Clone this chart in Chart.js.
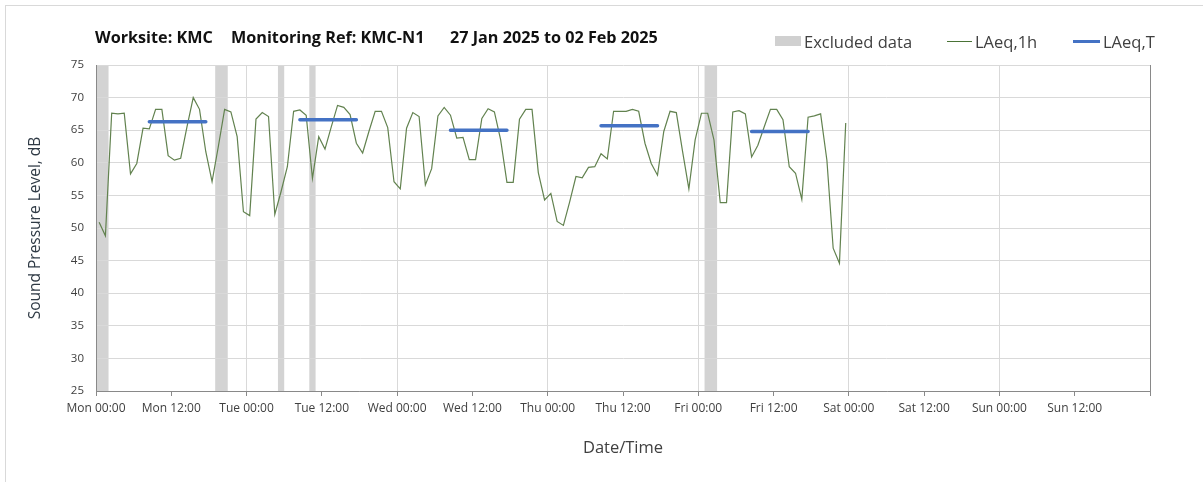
<!DOCTYPE html>
<html lang="en">
<head>
<meta charset="UTF-8">
<title>KMC-N1 Noise Monitoring</title>
<script src="https://cdn.jsdelivr.net/npm/chart.js"></script>
<style>
    body { margin: 0; background: #fff; overflow: hidden; font-family: 'Open Sans', sans-serif; }
    .wrap { position: relative; width: 1203px; height: 482px; }
    .frame { position: absolute; left: 5px; top: 5px; width: 1400px; height: 700px; border: 1px solid #d9d9d9; }
    canvas { position: absolute; left: 0; top: 0; }
    .title span { position: absolute; top: 26px; font-size: 16.2px; font-weight: bold; color: #111; white-space: nowrap; }
    .legend { position: absolute; top: 30px; font-size: 16.5px; color: #404040; white-space: nowrap; }
    .legend .mark { position: absolute; }
    .legend .txt { position: absolute; top: 0; }
</style>
</head>
<body>
<div class="wrap">
    <div class="frame"></div>
    <canvas id="myChart" width="1203" height="482"></canvas>
    <div class="title">
        <span style="left:95px">Worksite: KMC</span>
        <span style="left:231px">Monitoring Ref: KMC-N1</span>
        <span style="left:450px">27 Jan 2025 to 02 Feb 2025</span>
    </div>
    <div class="legend">
        <div class="mark" style="left:775px; top:6px; width:26px; height:10px; background:#d0d0d0;"></div>
        <div class="txt" style="left:804px">Excluded data</div>
        <div class="mark" style="left:947px; top:11px; width:25px; height:1px; background:#4a7336;"></div>
        <div class="txt" style="left:975px">LAeq,1h</div>
        <div class="mark" style="left:1073px; top:10px; width:27px; height:3px; background:#4472c4;"></div>
        <div class="txt" style="left:1103px">LAeq,T</div>
    </div>
</div>
<script>
    // x axis runs in hours from Mon 00:00 to the following Mon 00:00
    const tickLabels = ['Mon 00:00', 'Mon 12:00', 'Tue 00:00', 'Tue 12:00', 'Wed 00:00', 'Wed 12:00',
        'Thu 00:00', 'Thu 12:00', 'Fri 00:00', 'Fri 12:00', 'Sat 00:00', 'Sat 12:00', 'Sun 00:00', 'Sun 12:00'];

    // hourly LAeq,1h from Mon 00:00, plotted at the middle of each hour
    const laeq1h = [
        50.9, 48.8, 67.6, 67.5, 67.6, 58.3, 59.9, 65.3, 65.2, 68.2, 68.2, 61.1, 60.4, 60.7, 65.5, 70.0, 68.2, 61.7, 57.1, 62.5, 68.2, 67.8, 64.0, 52.5,
        51.9, 66.7, 67.7, 67.1, 52.1, 55.6, 59.4, 67.9, 68.1, 67.3, 57.6, 64.0, 62.1, 65.5, 68.8, 68.5, 67.4, 63.0, 61.5, 64.8, 67.9, 67.9, 65.4, 57.1,
        56.0, 65.3, 67.7, 67.1, 56.6, 59.1, 67.2, 68.5, 67.3, 63.8, 63.9, 60.5, 60.5, 66.8, 68.3, 67.8, 63.5, 57.0, 57.0, 66.7, 68.2, 68.2, 58.5, 54.3,
        55.3, 51.0, 50.4, 54.0, 57.9, 57.7, 59.3, 59.4, 61.4, 60.6, 67.9, 67.9, 67.9, 68.2, 67.9, 63.0, 59.9, 58.1, 64.8, 67.9, 67.7, 61.7, 56.0, 63.5,
        67.6, 67.6, 63.5, 53.9, 53.9, 67.8, 68.0, 67.5, 60.9, 62.7, 65.5, 68.2, 68.2, 66.6, 59.4, 58.4, 54.4, 67.0, 67.2, 67.5, 60.4, 46.9, 44.6, 66.1
    ];

    // LAeq,T over each daytime period (hours from Mon 00:00)
    const periodStart = [8.5, 32.5, 56.5, 80.5, 104.5];
    const periodEnd = [17.5, 41.5, 65.5, 89.5, 113.5];
    const periodLevel = [66.3, 66.6, 65.0, 65.7, 64.8];

    // excluded data windows (hours from Mon 00:00)
    const excludedStart = [0, 19, 29, 34, 97];
    const excludedEnd = [2, 21, 30, 35, 99];

    const hourlyPoints = laeq1h.map((v, i) => ({ x: i + 0.5, y: v }));
    const periodPoints = [];
    periodLevel.forEach((lvl, i) => {
        periodPoints.push({ x: periodStart[i], y: lvl });
        periodPoints.push({ x: periodEnd[i], y: lvl });
        periodPoints.push({ x: periodEnd[i] + 1, y: null });
    });

    const excludedBands = {
        id: 'excludedBands',
        beforeDraw(chart) {
            const { ctx, chartArea, scales } = chart;
            ctx.save();
            ctx.fillStyle = '#d3d3d3';
            excludedStart.forEach((s, i) => {
                const x0 = scales.x.getPixelForValue(s);
                const x1 = scales.x.getPixelForValue(excludedEnd[i]);
                ctx.fillRect(x0, chartArea.top, x1 - x0, chartArea.bottom - chartArea.top);
            });
            ctx.restore();
        }
    };

    const textColor = '#404040';
    const ctx = document.getElementById('myChart').getContext('2d');

    new Chart(ctx, {
        type: 'line',
        data: {
            datasets: [
                {
                    label: 'LAeq,T',
                    data: periodPoints,
                    borderColor: '#4472c4',
                    borderWidth: 3.5,
                    borderCapStyle: 'round',
                    pointRadius: 0,
                    spanGaps: false
                },
                {
                    label: 'LAeq,1h',
                    data: hourlyPoints,
                    borderColor: '#62824f',
                    borderWidth: 1.2,
                    pointRadius: 0,
                    tension: 0
                }
            ]
        },
        options: {
            responsive: false,
            animation: false,
            layout: { padding: { top: 65, right: 53, bottom: 20, left: 0 } },
            plugins: {
                legend: { display: false },
                title: { display: false },
                tooltip: { enabled: false }
            },
            scales: {
                x: {
                    type: 'linear',
                    min: 0,
                    max: 168,
                    afterFit(scale) { scale.height = 71; },
                    ticks: {
                        stepSize: 12,
                        autoSkip: false,
                        maxRotation: 0,
                        padding: 5,
                        color: textColor,
                        font: { family: 'Open Sans', size: 12 },
                        callback: (value) => tickLabels[value / 12] || ''
                    },
                    grid: {
                        color: (c) => c.tick && c.tick.value === 168 ? '#898989' : (c.tick && c.tick.value % 24 === 0 ? '#d9d9d9' : 'rgba(0,0,0,0)'),
                        tickColor: '#898989',
                        tickLength: 5,
                        lineWidth: 1
                    },
                    border: { color: '#898989', width: 1 },
                    title: {
                        display: true,
                        text: 'Date/Time',
                        color: textColor,
                        font: { family: 'Open Sans', size: 16.5 },
                        padding: { top: 4, bottom: 4 }
                    }
                },
                y: {
                    min: 25,
                    max: 75,
                    afterFit(scale) { scale.width = 96; },
                    ticks: {
                        stepSize: 5,
                        padding: 12,
                        color: textColor,
                        font: { family: 'Open Sans', size: 11.5 }
                    },
                    grid: {
                        color: '#d9d9d9',
                        drawTicks: false,
                        lineWidth: 1
                    },
                    border: { color: '#898989', width: 1 },
                    title: {
                        display: true,
                        text: 'Sound Pressure Level, dB',
                        color: '#2f3a45',
                        font: { family: 'Open Sans', size: 15.5 },
                        padding: { top: 26, bottom: 0 }
                    }
                }
            }
        },
        plugins: [excludedBands]
    });
</script>
</body>
</html>
